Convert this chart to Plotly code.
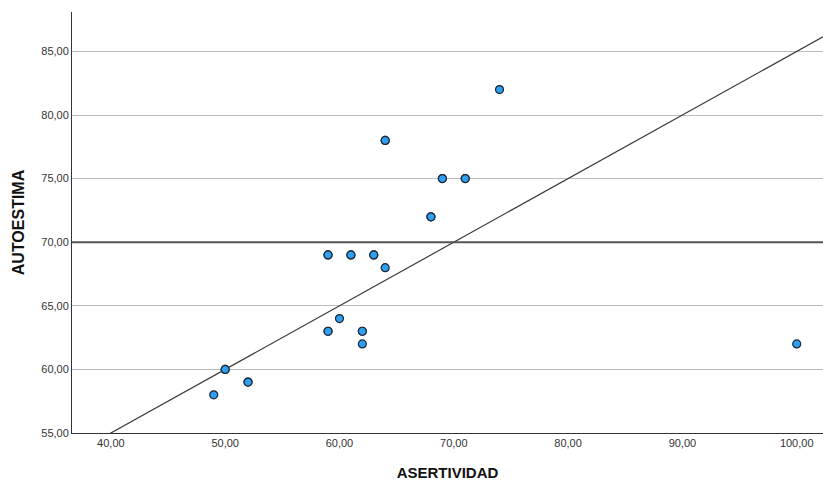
import plotly.graph_objects as go

# Data (duplicates kept where outlines look heavier)
asertividad = [49, 50, 50, 52, 52, 59, 59, 59, 59, 60, 61, 61, 62, 62, 62, 63, 63,
               64, 64, 64, 68, 68, 69, 69, 71, 71, 74, 100]
autoestima = [58, 60, 60, 59, 59, 69, 69, 63, 63, 64, 69, 69, 63, 63, 62, 69, 69,
              78, 78, 68, 72, 72, 75, 75, 75, 75, 82, 62]

line_intercept = 35.0
line_slope = 0.5
ref_y = 70.0

x_range = [36.6, 102.3]
y_range = [55.0, 88.1]
x_ticks = [40, 50, 60, 70, 80, 90, 100]
y_ticks = [55, 60, 65, 70, 75, 80, 85]

fig = go.Figure()

fig.add_trace(go.Scatter(
    x=x_range,
    y=[line_intercept + line_slope * v for v in x_range],
    mode="lines",
    line=dict(color="#3a3a3a", width=1.2),
    hoverinfo="skip",
    showlegend=False,
))

fig.add_trace(go.Scatter(
    x=asertividad, y=autoestima,
    mode="markers",
    marker=dict(size=8, color="#2f9ff2", line=dict(color="#1c2733", width=1.2)),
    showlegend=False,
))

fig.add_hline(y=ref_y, line=dict(color="#555555", width=2), layer="above")

font_family = "Liberation Sans, Arial, sans-serif"

fig.update_layout(
    width=823, height=481,
    margin=dict(l=72, r=0, t=12, b=48, autoexpand=False),
    paper_bgcolor="white",
    plot_bgcolor="white",
    separators=",.",
    font=dict(family=font_family, size=11, color="#333333"),
    xaxis=dict(
        range=x_range, tickvals=x_ticks, tickformat=".2f",
        showgrid=False, zeroline=False, automargin=False,
        showline=True, linecolor="#333333", linewidth=1,
        ticks="", ticklen=0,
        title=dict(text="<b>ASERTIVIDAD</b>", font=dict(size=15, color="#111111", family=font_family), standoff=21),
    ),
    yaxis=dict(
        range=y_range, tickvals=y_ticks, tickformat=".2f",
        showgrid=True, gridcolor="#bdbdbd", gridwidth=1, zeroline=False, automargin=False,
        showline=True, linecolor="#333333", linewidth=1,
        ticks="", ticklen=0,
        title=dict(text="<b>AUTOESTIMA</b>", font=dict(size=16, color="#111111", family=font_family), standoff=12),
    ),
)

fig.write_html("out.html", config={"displayModeBar": False},
               post_script="document.body.style.margin='0';")
